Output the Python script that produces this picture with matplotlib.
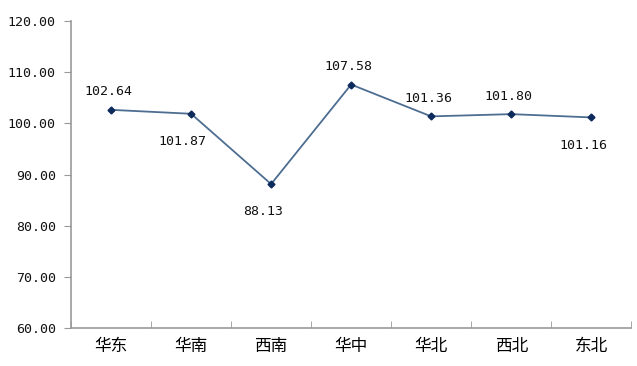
import matplotlib
matplotlib.use("Agg")
import matplotlib.pyplot as plt
from matplotlib.ticker import FixedLocator

plt.rcParams['font.family'] = ['Noto Sans CJK SC', 'DejaVu Sans']

regions = ['华东', '华南', '西南', '华中', '华北', '西北', '东北']
values = [102.64, 101.87, 88.13, 107.58, 101.36, 101.80, 101.16]
label_above = [True, False, False, True, True, True, False]

fig = plt.figure(figsize=(6.37, 3.66), dpi=100)
ax = fig.add_axes([0.1115, 0.1038, 0.8795, 0.8388])

x = list(range(len(regions)))
ax.plot(x, values, color='#4d6d91', lw=1.3, marker='D', ms=3.5,
        mfc='#0d2a5c', mec='#0d2a5c', zorder=3)

# labels above sit a bit closer than the ones below, and the lower ones lean left
for xi, v, up in zip(x, values, label_above):
    off = (-2, 13) if up else (-6, -20)
    ax.annotate(f'{v:.2f}', (xi, v), xytext=off,
                textcoords='offset points', ha='center', va='center',
                fontsize=9.5, family='DejaVu Sans Mono', color='#111111')

ax.set_xlim(-0.5, len(regions) - 0.5)
ax.set_ylim(60, 120)
ax.set_yticks(range(60, 121, 10))
ax.set_yticklabels([f'{t:.2f}' for t in range(60, 121, 10)],
                   family='DejaVu Sans Mono', fontsize=9.5, color='#111111')

ax.set_xticks(x)
ax.set_xticklabels(regions, fontsize=12)
ax.tick_params(axis='x', length=0, pad=7)
ax.xaxis.set_minor_locator(FixedLocator([i + 0.5 for i in range(-1, len(regions))]))
ax.tick_params(axis='x', which='minor', direction='in', length=5, color='#999999')
ax.tick_params(axis='y', direction='out', length=5, color='#999999', pad=6)

for s in ['top', 'right']:
    ax.spines[s].set_visible(False)
for s in ['left', 'bottom']:
    ax.spines[s].set_color('#999999')
    ax.spines[s].set_linewidth(1.2)

fig.savefig('out.png', dpi=100)
